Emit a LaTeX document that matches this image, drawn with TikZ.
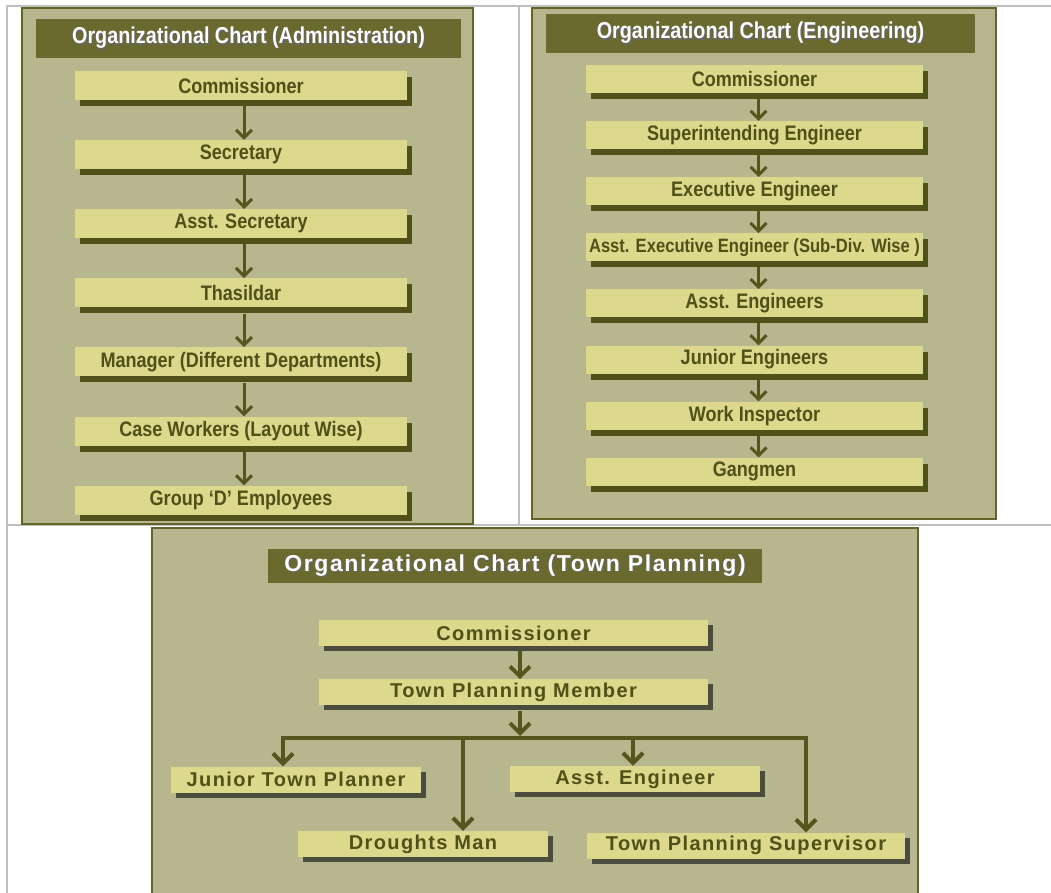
\documentclass[tikz,border=0pt]{standalone}
\usepackage{fontspec}
\setmainfont{Liberation Sans}
\newfontfamily\narrowsans[FakeStretch=0.86]{Liberation Sans}
\newfontfamily\widesans[LetterSpace=7]{Liberation Sans}
\definecolor{PanelFill}{RGB}{182, 183, 142}
\definecolor{PanelEdge}{RGB}{100, 100, 40}
\definecolor{TitleOlive}{RGB}{106, 106, 46}
\definecolor{BoxYellow}{RGB}{220, 216, 140}
\definecolor{BoxText}{RGB}{80, 80, 25}
\definecolor{ShadowOlive}{RGB}{80, 80, 25}
\definecolor{ShadowGray}{RGB}{75, 75, 62}
\definecolor{ArrowOlive}{RGB}{85, 85, 30}
\definecolor{TableGray}{RGB}{192, 192, 192}
\usetikzlibrary{arrows.meta, positioning, shadows}
\newcommand{\softshadow}[1]{\leavevmode\rlap{\kern1.5pt\raisebox{-1.5pt}{\color{black!60}#1}}#1}

\begin{document}
\begin{tikzpicture}[x=1pt, y=1pt]
        \tikzstyle{panel} = [draw=PanelEdge, fill=PanelFill, line width=1.5pt]
        \tikzstyle{gridline} = [draw=TableGray, line width=2pt]
        \tikzstyle{titlebar} = [rectangle, fill=TitleOlive, text=white, inner sep=0pt, font=\narrowsans\bfseries\fontsize{23}{26}\selectfont]
        \tikzstyle{boxbase} = [rectangle, fill=BoxYellow, text=BoxText, inner sep=0pt]
        \tikzstyle{rankbox} = [boxbase, font=\narrowsans\bfseries\fontsize{21}{24}\selectfont, drop shadow={shadow xshift=5pt, shadow yshift=-6pt, fill=ShadowOlive, opacity=1}]
        \tikzstyle{adbox} = [rankbox, minimum width=332pt, minimum height=29pt]
        \tikzstyle{engbox} = [rankbox, minimum width=337pt, minimum height=28pt]
        \tikzstyle{tpbox} = [boxbase, minimum height=26pt, font=\widesans\bfseries\fontsize{20}{23}\selectfont, drop shadow={shadow xshift=5pt, shadow yshift=-5pt, fill=ShadowGray, opacity=1}]
        \tikzstyle{down} = [-{Straight Barb[length=8pt, width=16pt]}, line width=3pt, draw=ArrowOlive]
        \tikzstyle{branch} = [-{Straight Barb[length=10pt, width=20pt]}, line width=4pt, draw=ArrowOlive]

        \useasboundingbox (0,0) rectangle (1051,-893);
        \fill[white] (0,0) rectangle (1051,-893);

        % Table lines
        \draw[gridline] (7,-893) -- (7,-6) -- (1051,-6);
        \draw[gridline] (519,-6) -- (519,-525);
        \draw[gridline] (7,-525) -- (1051,-525);

        % Panels
        \draw[panel] (22,-8) rectangle (473,-524);
        \draw[panel] (532,-8) rectangle (996,-519);
        \draw[panel] (152,-528) rectangle (918,-896);

        % Administration
        \node (adtitle) [titlebar, minimum width=425pt, minimum height=39pt] at (248.5,-38.5) {\softshadow{Organizational Chart (Administration)}};
        \node (adcom) [adbox] at (241,-85.5) {Commissioner};
        \node (adsec) [adbox, below=39.7pt of adcom] {Secretary};
        \node (adasst) [adbox, below=39.7pt of adsec] {Asst. Secretary};
        \node (adthas) [adbox, below=39.7pt of adasst] {Thasildar};
        \node (admgr) [adbox, below=39.7pt of adthas] {Manager (Different Departments)};
        \node (adcase) [adbox, below=39.7pt of admgr] {Case Workers (Layout Wise)};
        \node (adgrpd) [adbox, below=39.7pt of adcase] {Group ‘D’ Employees};

        \draw [down] ([xshift=3pt,yshift=-6pt]adcom.south) -- ([xshift=3pt]adsec.north);
        \draw [down] ([xshift=3pt,yshift=-6pt]adsec.south) -- ([xshift=3pt]adasst.north);
        \draw [down] ([xshift=3pt,yshift=-6pt]adasst.south) -- ([xshift=3pt]adthas.north);
        \draw [down] ([xshift=3pt,yshift=-6pt]adthas.south) -- ([xshift=3pt]admgr.north);
        \draw [down] ([xshift=3pt,yshift=-6pt]admgr.south) -- ([xshift=3pt]adcase.north);
        \draw [down] ([xshift=3pt,yshift=-6pt]adcase.south) -- ([xshift=3pt]adgrpd.north);

        % Engineering
        \node (engtitle) [titlebar, minimum width=429pt, minimum height=39pt] at (760.5,-33.5) {\softshadow{Organizational Chart (Engineering)}};
        \node (engcom) [engbox] at (754.5,-79) {Commissioner};
        \node (engsup) [engbox, below=27.7pt of engcom] {Superintending Engineer};
        \node (engexe) [engbox, below=27.7pt of engsup] {Executive Engineer};
        \node (engaexe) [engbox, below=27.7pt of engexe, font=\narrowsans\bfseries\fontsize{19.3}{22}\selectfont] {Asst. Executive Engineer (Sub-Div. Wise )};
        \node (engasst) [engbox, below=27.7pt of engaexe] {Asst. Engineers};
        \node (engjun) [engbox, below=27.7pt of engasst] {Junior Engineers};
        \node (engwork) [engbox, below=27.7pt of engjun] {Work Inspector};
        \node (enggang) [engbox, below=27.7pt of engwork] {Gangmen};

        \draw [down] ([xshift=4pt,yshift=-5pt]engcom.south) -- ([xshift=4pt]engsup.north);
        \draw [down] ([xshift=4pt,yshift=-5pt]engsup.south) -- ([xshift=4pt]engexe.north);
        \draw [down] ([xshift=4pt,yshift=-5pt]engexe.south) -- ([xshift=4pt]engaexe.north);
        \draw [down] ([xshift=4pt,yshift=-5pt]engaexe.south) -- ([xshift=4pt]engasst.north);
        \draw [down] ([xshift=4pt,yshift=-5pt]engasst.south) -- ([xshift=4pt]engjun.north);
        \draw [down] ([xshift=4pt,yshift=-5pt]engjun.south) -- ([xshift=4pt]engwork.north);
        \draw [down] ([xshift=4pt,yshift=-5pt]engwork.south) -- ([xshift=4pt]enggang.north);

        % Town planning
        \node (tptitle) [titlebar, font=\widesans\bfseries\fontsize{23}{26}\selectfont, minimum width=494pt, minimum height=34pt] at (515,-566) {\softshadow{Organizational Chart (Town Planning)}};
        \node (tpcom) [tpbox, minimum width=389pt] at (513.5,-633) {Commissioner};
        \node (tpmem) [tpbox, minimum width=389pt, below=33pt of tpcom] {Town Planning Member};
        \node (tpjun) [tpbox, minimum width=250pt] at (296,-779.5) {Junior Town Planner};
        \node (tpasst) [tpbox, minimum width=250pt] at (635,-779) {Asst. Engineer};
        \node (tpdrau) [tpbox, minimum width=250pt] at (423,-844) {Droughts Man};
        \node (tpsup) [tpbox, minimum width=318pt] at (746,-845.5) {Town Planning Supervisor};
        \coordinate (bus) at (520,-738);

        \draw [branch] ([xshift=6.5pt,yshift=-5pt]tpcom.south) -- ([xshift=6.5pt]tpmem.north);
        \draw [branch, shorten >=2pt] ([xshift=6.5pt,yshift=-5pt]tpmem.south) -- (bus);
        \draw [branch] (bus) -| ([xshift=-13pt]tpjun.north);
        \draw [branch] (bus) -| ([xshift=40pt]tpdrau.north);
        \draw [branch] (bus) -| ([xshift=-2pt]tpasst.north);
        \draw [branch] (bus) -| ([xshift=60pt]tpsup.north);
\end{tikzpicture}
\end{document}
